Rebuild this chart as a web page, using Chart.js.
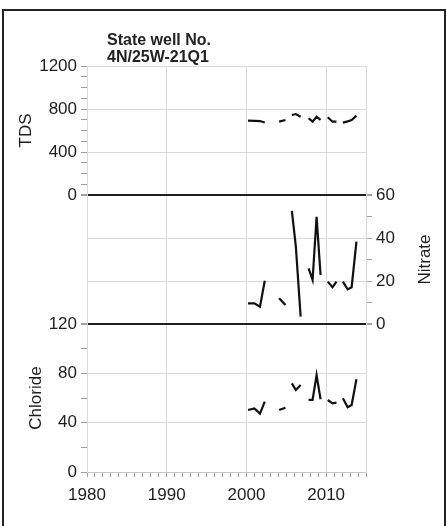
<!DOCTYPE html>
<html>
<head>
<meta charset="utf-8">
<script src="https://cdn.jsdelivr.net/npm/chart.js@4.4.1/dist/chart.umd.min.js"></script>
<style>
    html, body { margin: 0; padding: 0; background: #fff; }
    #wrap { position: relative; width: 446px; height: 526px; overflow: hidden; }
    #frame { position: absolute; left: 2px; top: 9px; width: 440px; height: 530px; border: 2px solid #222; pointer-events: none; }
    #title { position: absolute; left: 107px; top: 31px; font: bold 16px/17px "Liberation Sans", Arial, sans-serif; color: #222; }
</style>
</head>
<body>
<div id="wrap">
    <canvas id="wellChart" width="446" height="526"></canvas>
    <div id="title">State well No.<br>4N/25W-21Q1</div>
    <div id="frame"></div>
</div>
<script>
// ==========================================
// Данные скважины 4N/25W-21Q1
// ==========================================

// годы отбора проб (null-точки разрывают линию)
const sampleYears = [2000.2, 2001.0, 2001.7, 2002.3, 2003.1,
    2004.1, 2004.9, 2005.3,
    2005.7, 2006.2, 2006.8, 2007.3,
    2007.8, 2008.3, 2008.8, 2009.3, 2009.7,
    2010.2, 2010.8, 2011.3, 2011.7,
    2012.1, 2012.7, 2013.2, 2013.8];

const tdsValues = [691, 690, 688, 675, null,
    682, 698, null,
    744, 753, 728, null,
    714, 682, 728, 698, null,
    723, 682, 682, null,
    673, 685, 698, 738];

const nitrateValues = [9.6, 9.6, 8.0, 20.1, null,
    12, 8.8, null,
    52.6, 36, 3.4, null,
    25.9, 20.5, 49.9, 22.8, null,
    19.7, 17.1, 19.7, null,
    19.7, 16.1, 17.1, 38.3];

const chlorideValues = [50.3, 51.6, 47.3, 57, null,
    50.3, 52.1, null,
    71.9, 66.5, 70.5, null,
    58.4, 58.4, 78.6, 59, null,
    58.4, 55.7, 56.2, null,
    59.8, 52.5, 54.3, 75.2];

const yearTicks = [1980, 1990, 2000, 2010];
const tdsTicks = [0, 400, 800, 1200];
const nitrateTicks = [0, 20, 40, 60];
const chlorideTicks = [0, 40, 80, 120];

const INK = '#1e1e1e';
const GRID = '#dadada';
const TICK = '#a0a0a0';
const FONT = '"Liberation Sans", Arial, sans-serif';

function toPoints(values) {
    return sampleYears.map((year, i) => ({ x: year, y: values[i] }));
}

function fixWidth(w) {
    return scale => { scale.width = w; };
}

// цвет линий сетки: жирные черные линии на границах панелей
function gridColor(major, boundaries) {
    return ctx => {
        const v = ctx.tick ? ctx.tick.value : null;
        if (boundaries.includes(v)) return INK;
        return major.includes(v) ? GRID : 'rgba(0,0,0,0)';
    };
}

function gridWidth(boundaries) {
    return ctx => (ctx.tick && boundaries.includes(ctx.tick.value)) ? 2 : 1;
}

function valueAxis(position, weight, ticks, minorStep, boundaries, width) {
    return {
        type: 'linear',
        position: position,
        stack: position,
        stackWeight: weight,
        min: ticks[0],
        max: ticks[ticks.length - 1],
        afterFit: fixWidth(width),
        border: { color: GRID },
        grid: {
            color: gridColor(ticks, boundaries),
            lineWidth: gridWidth(boundaries),
            tickColor: TICK,
            tickLength: 6
        },
        ticks: {
            stepSize: minorStep,
            autoSkip: false,
            padding: 4,
            color: INK,
            font: { family: FONT, size: 17 },
            callback: v => ticks.includes(v) ? String(v) : ''
        }
    };
}

function spacerAxis(position, weight, width) {
    return {
        type: 'linear',
        position: position,
        stack: position,
        stackWeight: weight,
        min: 0,
        max: 1,
        afterFit: fixWidth(width),
        border: { color: GRID },
        grid: { drawOnChartArea: false, drawTicks: false },
        ticks: { display: false }
    };
}

const tdsAxis = valueAxis('left', 129, tdsTicks, 100, [0], 77);
tdsAxis.title = { display: true, text: 'TDS', color: INK, font: { family: FONT, size: 17 }, padding: { top: 6, bottom: 0 } };

const chlorideAxis = valueAxis('left', 148, chlorideTicks, 20, [120], 77);
chlorideAxis.title = { display: true, text: 'Chloride', color: INK, font: { family: FONT, size: 17 }, padding: { top: 16, bottom: 0 } };

const nitrateAxis = valueAxis('right', 129, nitrateTicks, 10, [0, 60], 50);

// подпись правой оси читается снизу вверх, как левые
const nitrateTitle = {
    id: 'nitrateTitle',
    afterDraw(chart) {
        const s = chart.scales.yNit;
        const ctx = chart.ctx;
        ctx.save();
        ctx.translate(s.left + 59, (s.top + s.bottom) / 2);
        ctx.rotate(-Math.PI / 2);
        ctx.font = '17px ' + FONT;
        ctx.fillStyle = INK;
        ctx.textAlign = 'center';
        ctx.textBaseline = 'middle';
        ctx.fillText('Nitrate', 0, 0);
        ctx.restore();
    }
};

const lineStyle = {
    borderColor: '#111',
    borderWidth: 2.2,
    pointRadius: 0,
    tension: 0,
    spanGaps: false
};

new Chart(document.getElementById('wellChart'), {
    type: 'line',
    data: {
        datasets: [
            Object.assign({ label: 'TDS', data: toPoints(tdsValues), yAxisID: 'yTds' }, lineStyle),
            Object.assign({ label: 'Nitrate', data: toPoints(nitrateValues), yAxisID: 'yNit' }, lineStyle),
            Object.assign({ label: 'Chloride', data: toPoints(chlorideValues), yAxisID: 'yCl' }, lineStyle)
        ]
    },
    options: {
        responsive: false,
        animation: false,
        devicePixelRatio: 1,
        layout: { padding: { top: 66, left: 10, right: 30, bottom: 14 } },
        plugins: {
            legend: { display: false },
            tooltip: { enabled: false }
        },
        scales: {
            x: {
                type: 'linear',
                position: 'bottom',
                min: 1980,
                max: 2015,
                afterFit: scale => { scale.height = 40; },
                border: { color: '#c8c8c8' },
                grid: {
                    color: ctx => (ctx.tick && yearTicks.includes(ctx.tick.value)) ? GRID : 'rgba(0,0,0,0)',
                    tickColor: TICK,
                    tickLength: 5
                },
                ticks: {
                    stepSize: 1,
                    autoSkip: false,
                    maxRotation: 0,
                    padding: 8,
                    color: INK,
                    font: { family: FONT, size: 17 },
                    callback: v => yearTicks.includes(v) ? String(v) : ''
                }
            },
            // левый стек раскладывается в обратном порядке: снизу вверх
            yCl: chlorideAxis,
            yLeftMid: spacerAxis('left', 129, 77),
            yTds: tdsAxis,
            yRightTop: spacerAxis('right', 129, 50),
            yNit: nitrateAxis,
            yRightBottom: spacerAxis('right', 148, 50)
        }
    },
    plugins: [nitrateTitle]
});
</script>
</body>
</html>
